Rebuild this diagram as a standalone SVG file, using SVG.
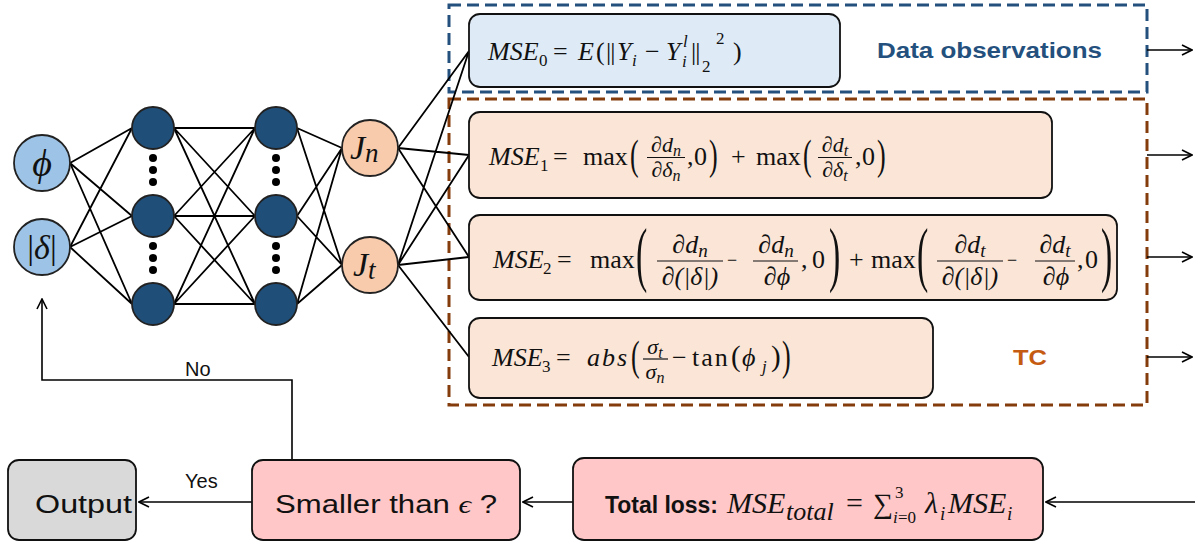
<svg xmlns="http://www.w3.org/2000/svg" width="1195" height="548" viewBox="0 0 1195 548">
  <defs>
    <marker id="arr" viewBox="0 0 12 12" refX="11" refY="6" markerWidth="12" markerHeight="12" markerUnits="userSpaceOnUse" orient="auto">
      <path d="M1,1 L11,6 L1,11" fill="none" stroke="#000" stroke-width="1.6"/>
    </marker>
    <style>
      .edge { stroke: #000; stroke-width: 1.8; fill: none; }
      .flow { stroke: #000; stroke-width: 1.6; fill: none; marker-end: url(#arr); }
      .node { stroke: #222; stroke-width: 1.8; }
      .inp { fill: #9DC3E6; }
      .hid { fill: #1F4E79; }
      .out { fill: #F8CBAD; }
      .dot { fill: #000; }
      .box { stroke: #111; stroke-width: 1.8; }
      .obs { fill: #DEEBF7; }
      .tc { fill: #FBE5D6; }
      .loss { fill: #FFC7C7; }
      .gray { fill: #D9D9D9; }
      .m { font-family: "Liberation Serif", "DejaVu Serif", serif; font-size: 26px; fill: #111; }
      .i { font-style: italic; }
      .s { font-size: 17px; }
      .f { font-family: "Liberation Serif", "DejaVu Serif", serif; font-size: 22px; font-style: italic; fill: #111; text-anchor: middle; }
      .fb { font-family: "Liberation Serif", "DejaVu Serif", serif; font-size: 26px; font-style: italic; fill: #111; text-anchor: middle; }
      .sans { font-family: "Liberation Sans", "DejaVu Sans", sans-serif; fill: #111; }
      .bar { stroke: #111; stroke-width: 1.2; }
    </style>
  </defs>

  <!-- dashed group frames -->
  <rect x="449" y="5" width="698" height="87" fill="none" stroke="#24507E" stroke-width="3" stroke-dasharray="12 6"/>
  <rect x="449" y="99" width="698" height="306" fill="none" stroke="#843C0C" stroke-width="3" stroke-dasharray="12 6"/>

  <!-- connectors -->
  <g id="connectors">
    <path class="edge" d="M70,163L132,128M70,163L132,216M70,163L132,304M70,247L132,128M70,247L132,216M70,247L132,304"/>
    <path class="edge" d="M174,128L255,128M174,128L255,216M174,128L255,304M174,216L255,128M174,216L255,216M174,216L255,304M174,304L255,128M174,304L255,216M174,304L255,304"/>
    <path class="edge" d="M297,128L342,148M297,216L342,148M297,304L342,148M297,128L342,265M297,216L342,265M297,304L342,265"/>
    <path class="edge" d="M398,148L469,51M398,148L469,155M398,148L469,257M398,265L469,51M398,265L469,155M398,265L469,257M398,265L469,357"/>
    <path class="flow" d="M1147,50H1192"/>
    <path class="flow" d="M1147,155H1192"/>
    <path class="flow" d="M1147,257H1192"/>
    <path class="flow" d="M1147,357H1192"/>
    <path class="flow" d="M1195,502H1046"/>
    <path class="flow" d="M573,502H523"/>
    <path class="flow" d="M252,502H139"/>
    <path class="flow" d="M292,459V380H42V299"/>
    <text class="sans" x="185" y="488" style="font-size:20px">Yes</text>
    <text class="sans" x="185" y="376" style="font-size:20px">No</text>
  </g>

  <!-- input layer -->
  <g id="in-phi">
    <circle class="node inp" cx="42" cy="163" r="28"/>
    <text class="m i" x="42" y="176" text-anchor="middle" style="font-size:38px">ϕ</text>
  </g>
  <g id="in-delta">
    <circle class="node inp" cx="42" cy="247" r="28"/>
    <text class="m" x="42" y="259" text-anchor="middle" style="font-size:34px">|<tspan class="i">δ</tspan>|</text>
  </g>

  <!-- hidden layer 1 -->
  <g id="h1">
    <circle class="node hid" cx="153" cy="128" r="21"/>
    <circle class="node hid" cx="153" cy="216" r="21"/>
    <circle class="node hid" cx="153" cy="304" r="21"/>
    <circle class="dot" cx="153" cy="158" r="4"/>
    <circle class="dot" cx="153" cy="170" r="4"/>
    <circle class="dot" cx="153" cy="182" r="4"/>
    <circle class="dot" cx="153" cy="246" r="4"/>
    <circle class="dot" cx="153" cy="258" r="4"/>
    <circle class="dot" cx="153" cy="270" r="4"/>
  </g>

  <!-- hidden layer 2 -->
  <g id="h2">
    <circle class="node hid" cx="276" cy="128" r="21"/>
    <circle class="node hid" cx="276" cy="216" r="21"/>
    <circle class="node hid" cx="276" cy="304" r="21"/>
    <circle class="dot" cx="276" cy="158" r="4"/>
    <circle class="dot" cx="276" cy="170" r="4"/>
    <circle class="dot" cx="276" cy="182" r="4"/>
    <circle class="dot" cx="276" cy="246" r="4"/>
    <circle class="dot" cx="276" cy="258" r="4"/>
    <circle class="dot" cx="276" cy="270" r="4"/>
  </g>

  <!-- output layer -->
  <g id="out-jn">
    <circle class="node out" cx="370" cy="148" r="28"/>
    <text class="m i" x="350" y="159" style="font-size:34px">J<tspan dy="3" style="font-size:27px">n</tspan></text>
  </g>
  <g id="out-jt">
    <circle class="node out" cx="370" cy="265" r="28"/>
    <text class="m i" x="353" y="276" style="font-size:34px">J<tspan dy="3" style="font-size:27px">t</tspan></text>
  </g>

  <!-- MSE0 : data term -->
  <g id="mse0">
    <rect class="box obs" x="469" y="14" width="371" height="73" rx="11"/>
    <text class="m"><tspan class="i" x="488" y="60">MSE</tspan><tspan class="s" x="539" y="66">0</tspan><tspan x="553" y="60">=</tspan><tspan class="i" x="578" y="60">E</tspan><tspan x="596" y="60">(</tspan><tspan x="606" y="60" letter-spacing="-1">||</tspan><tspan class="i" x="617" y="60">Y</tspan><tspan class="s i" x="632" y="66">i</tspan><tspan x="645" y="60">−</tspan><tspan class="i" x="666" y="60">Y</tspan><tspan class="s i" x="683" y="47">l</tspan><tspan class="s i" x="682" y="67">i</tspan><tspan x="691" y="60" letter-spacing="-1">||</tspan><tspan class="s" x="702" y="72">2</tspan><tspan class="s" x="716" y="44">2</tspan><tspan x="733" y="60">)</tspan></text>
    <text class="sans" x="877" y="58" font-weight="bold" style="fill:#24507E;font-size:22px" textLength="225" lengthAdjust="spacingAndGlyphs">Data observations</text>
  </g>

  <!-- MSE1 : monotonicity in δ -->
  <g id="mse1">
    <rect class="box tc" x="469" y="112" width="583" height="86" rx="11"/>
    <text class="m"><tspan class="i" x="489" y="165">MSE</tspan><tspan class="s" x="540" y="171">1</tspan><tspan x="553" y="165">=</tspan><tspan x="583" y="165">max</tspan><tspan x="687" y="165">,</tspan><tspan x="694" y="165">0</tspan><tspan x="731" y="165">+</tspan><tspan x="756" y="165">max</tspan><tspan x="855" y="165">,</tspan><tspan x="862" y="165">0</tspan></text>
    <text class="m" transform="translate(630,169) scale(1,1.6)">(</text>
    <text class="m" transform="translate(709,169) scale(1,1.6)">)</text>
    <text class="m" transform="translate(803,169) scale(1,1.6)">(</text>
    <text class="m" transform="translate(877,169) scale(1,1.6)">)</text>
    <text class="f" x="666" y="152">∂d<tspan dy="4" style="font-size:16px">n</tspan></text>
    <line class="bar" x1="647" y1="157.5" x2="685" y2="157.5"/>
    <text class="f" x="666" y="177">∂δ<tspan dy="4" style="font-size:16px">n</tspan></text>
    <text class="f" x="835" y="152">∂d<tspan dy="4" style="font-size:16px">t</tspan></text>
    <line class="bar" x1="818" y1="157.5" x2="852" y2="157.5"/>
    <text class="f" x="835" y="177">∂δ<tspan dy="4" style="font-size:16px">t</tspan></text>
  </g>

  <!-- MSE2 : |δ| versus ϕ sensitivity -->
  <g id="mse2">
    <rect class="box tc" x="469" y="215" width="648" height="85" rx="11"/>
    <text class="m"><tspan class="i" x="493" y="268">MSE</tspan><tspan class="s" x="543" y="274">2</tspan><tspan x="557" y="268">=</tspan><tspan x="590" y="268">max</tspan><tspan x="801" y="268">,</tspan><tspan x="812" y="268">0</tspan><tspan x="849" y="268">+</tspan><tspan x="871" y="268">max</tspan><tspan x="1077" y="268">,</tspan><tspan x="1085" y="268">0</tspan></text>
    <text class="m" x="727" y="266" style="font-size:18px">−</text>
    <text class="m" x="1007" y="266" style="font-size:18px">−</text>
    <text class="m" transform="translate(636,278) scale(1.3,2.8)">(</text>
    <text class="m" transform="translate(829,278) scale(1.3,2.8)">)</text>
    <text class="m" transform="translate(917,278) scale(1.3,2.8)">(</text>
    <text class="m" transform="translate(1101,278) scale(1.3,2.8)">)</text>
    <text class="fb" x="690" y="253">∂d<tspan dy="4" style="font-size:19px">n</tspan></text>
    <line class="bar" x1="657" y1="261" x2="723" y2="261"/>
    <text class="fb" x="690" y="285">∂(|δ|)</text>
    <text class="fb" x="776" y="253">∂d<tspan dy="4" style="font-size:19px">n</tspan></text>
    <line class="bar" x1="753" y1="261" x2="798" y2="261"/>
    <text class="fb" x="777" y="285">∂ϕ</text>
    <text class="fb" x="970" y="253">∂d<tspan dy="4" style="font-size:19px">t</tspan></text>
    <line class="bar" x1="937" y1="261" x2="1003" y2="261"/>
    <text class="fb" x="970" y="285">∂(|δ|)</text>
    <text class="fb" x="1055" y="253">∂d<tspan dy="4" style="font-size:19px">t</tspan></text>
    <line class="bar" x1="1035" y1="261" x2="1075" y2="261"/>
    <text class="fb" x="1056" y="285">∂ϕ</text>
  </g>

  <!-- MSE3 : friction-angle consistency -->
  <g id="mse3">
    <rect class="box tc" x="469" y="318" width="464" height="80" rx="11"/>
    <text class="m"><tspan class="i" x="492" y="366">MSE</tspan><tspan class="s" x="542" y="372">3</tspan><tspan x="556" y="366">=</tspan><tspan class="i" x="587" y="366" letter-spacing="2">abs</tspan><tspan x="672" y="366">−</tspan><tspan x="692" y="366" letter-spacing="2">tan</tspan><tspan x="731" y="366" style="font-size:29px">(</tspan><tspan class="i" x="742" y="366">ϕ</tspan><tspan class="s i" x="762" y="372">j</tspan><tspan x="771" y="366" style="font-size:29px">)</tspan></text>
    <text class="m" transform="translate(631,370) scale(1,1.6)">(</text>
    <text class="m" transform="translate(782,370) scale(1,1.6)">)</text>
    <text class="f" x="655" y="354">σ<tspan dy="4" style="font-size:16px">t</tspan></text>
    <line class="bar" x1="643" y1="359" x2="668" y2="359"/>
    <text class="f" x="655" y="379">σ<tspan dy="4" style="font-size:16px">n</tspan></text>
    <text class="sans" x="1013" y="365" font-weight="bold" style="fill:#C55A11;font-size:22px" textLength="34" lengthAdjust="spacingAndGlyphs">TC</text>
  </g>

  <!-- total loss -->
  <g id="total-loss">
    <rect class="box loss" x="573" y="458" width="470" height="82" rx="11"/>
    <text class="sans" x="605" y="513" font-weight="bold" style="font-size:24px" textLength="113" lengthAdjust="spacingAndGlyphs">Total loss:</text>
    <text class="m" style="font-size:30px"><tspan class="i" x="727" y="513">MSE</tspan><tspan class="i" x="786" y="520" style="font-size:26px">total</tspan><tspan x="846" y="513">=</tspan><tspan x="873" y="513" style="font-size:28px">∑</tspan><tspan x="895" y="498" style="font-size:17px">3</tspan><tspan class="i" x="893" y="523" style="font-size:17px">i</tspan><tspan x="898" y="523" style="font-size:17px">=0</tspan><tspan class="i" x="925" y="513">λ</tspan><tspan class="i" x="940" y="520" style="font-size:19px">i</tspan><tspan class="i" x="948" y="513">MSE</tspan><tspan class="i" x="1007" y="520" style="font-size:19px">i</tspan></text>
  </g>

  <!-- stopping check -->
  <g id="check">
    <rect class="box loss" x="252" y="460" width="268" height="80" rx="11"/>
    <text class="sans" x="275" y="513" style="font-size:26px" textLength="222" lengthAdjust="spacingAndGlyphs">Smaller than <tspan font-family="Liberation Serif, DejaVu Serif, serif" font-style="italic">ϵ</tspan> ?</text>
  </g>

  <!-- result -->
  <g id="output">
    <rect class="box gray" x="8" y="460" width="128" height="80" rx="11"/>
    <text class="sans" x="35" y="513" style="font-size:26px" textLength="97" lengthAdjust="spacingAndGlyphs">Output</text>
  </g>
</svg>
